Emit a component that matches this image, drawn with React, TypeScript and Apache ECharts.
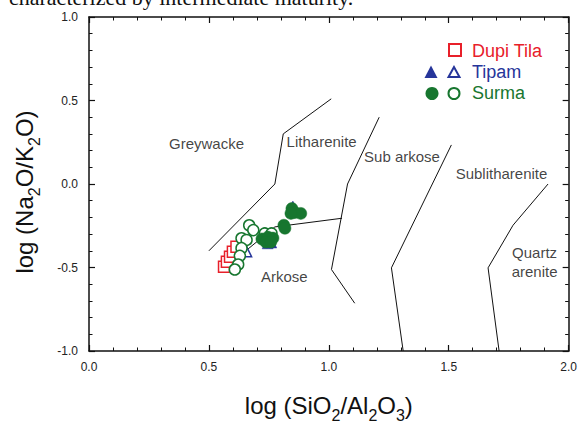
import React, { useEffect, useRef } from 'react';
import * as echarts from 'echarts';

const X_TICKS = ['0.0', '0.5', '1.0', '1.5', '2.0'];
const Y_TICKS = ['-1.0', '-0.5', '0.0', '0.5', '1.0'];

const dupiTila = [[0.563, -0.495], [0.575, -0.465], [0.588, -0.435], [0.6, -0.405], [0.615, -0.375]];
const tipamFilled = [[0.745, -0.355], [0.76, -0.35], [0.85, -0.135]];
const tipamOpen = [[0.657, -0.405]];
const surmaOpen = [
  [0.668, -0.247], [0.685, -0.276], [0.636, -0.325], [0.657, -0.335], [0.636, -0.384],
  [0.629, -0.43], [0.622, -0.482], [0.608, -0.512], [0.733, -0.296], [0.761, -0.296]
];
const surmaFilled = [
  [0.846, -0.147], [0.858, -0.171], [0.883, -0.176], [0.842, -0.176], [0.8125, -0.247],
  [0.817, -0.265], [0.721, -0.329], [0.746, -0.318], [0.767, -0.324], [0.7375, -0.347], [0.758, -0.347]
];

const lineGreywacke = [[0.5, -0.4], [0.775, 0.0], [0.81, 0.3], [1.01, 0.51]];
const lineArkose = [[0.62, -0.44], [0.775, -0.257], [1.055, -0.205]];
const lineSubArkose = [[1.21, 0.4], [1.078, 0.0], [1.011, -0.512], [1.108, -0.714]];
const lineSublith = [[1.511, 0.234], [1.261, -0.502], [1.31, -1.0]];
const lineQuartz = [[1.914, 0.0], [1.768, -0.247], [1.664, -0.502], [1.71, -1.0]];

const fieldNames = ['Greywacke', 'Litharenite', 'Sub arkose', 'Sublitharenite', 'Quartz\narenite', 'Arkose'];
const fieldPos = [[0.49, 0.243], [0.97, 0.257], [1.305, 0.165], [1.72, 0.063], [1.858, -0.465], [0.814, -0.551]];

const RED = '#e8202a';
const BLUE = '#26359a';
const GREEN = '#17762f';
const FONT = '"Liberation Sans", Arial, sans-serif';

export default function App() {
  const ref = useRef<HTMLDivElement>(null);
  useEffect(() => {
    if (!ref.current) return;
    const chart = echarts.init(ref.current, undefined, { renderer: 'svg' });
    const axisCommon = {
      type: 'value',
      interval: 0.5,
      axisLine: { show: true, onZero: false, lineStyle: { color: '#111', width: 1.5 } },
      axisTick: { show: true, inside: true, length: 6, lineStyle: { color: '#111', width: 1.2 } },
      minorTick: { show: true, splitNumber: 5, length: 3.5, lineStyle: { color: '#111', width: 1 } },
      splitLine: { show: false },
      minorSplitLine: { show: false }
    };
    const lineSeries = (d: number[][]) => ({
      type: 'line', data: d, symbol: 'none', silent: true, z: 1,
      lineStyle: { color: '#111', width: 1 }
    });
    const scatter = (d: number[][], symbol: string, size: number, filled: boolean, color: string, z: number) => ({
      type: 'scatter', data: d, symbol, symbolSize: size, z,
      itemStyle: { color: filled ? color : '#fff', borderColor: color, borderWidth: filled ? 0.5 : 1.5, opacity: 1 }
    });
    const rich = { s: { fontSize: 16, fontFamily: FONT, color: '#111', verticalAlign: 'bottom', padding: [0, 0, -6, 0] } };
    chart.setOption({
      animation: false,
      backgroundColor: '#fff',
      grid: { left: 89, right: 7, top: 17, bottom: 64 },
      xAxis: [
        {
          ...axisCommon, min: 0, max: 2, position: 'bottom',
          axisLabel: {
            margin: 10, fontSize: 12, color: '#222', fontFamily: FONT,
            formatter: (v: number) => X_TICKS[Math.round(v / 0.5)] ?? ''
          },
          name: 'log (SiO{s|2}/Al{s|2}O{s|3})',
          nameLocation: 'middle', nameGap: 42,
          nameTextStyle: { fontSize: 24, color: '#111', fontFamily: FONT, rich }
        },
        { ...axisCommon, min: 0, max: 2, position: 'top', axisLabel: { show: false } }
      ],
      yAxis: [
        {
          ...axisCommon, min: -1, max: 1, position: 'left',
          axisLabel: {
            margin: 11, fontSize: 12, color: '#222', fontFamily: FONT,
            formatter: (v: number) => Y_TICKS[Math.round((v + 1) / 0.5)] ?? ''
          },
          name: 'log (Na{s|2}O/K{s|2}O)',
          nameLocation: 'middle', nameGap: 53, nameRotate: 90,
          nameTextStyle: { fontSize: 24, color: '#111', fontFamily: FONT, rich, padding: [0, 16, 0, 0] }
        },
        { ...axisCommon, min: -1, max: 1, position: 'right', axisLabel: { show: false } }
      ],
      series: [
        lineSeries(lineGreywacke),
        lineSeries(lineArkose),
        lineSeries(lineSubArkose),
        lineSeries(lineSublith),
        lineSeries(lineQuartz),
        {
          type: 'scatter', silent: true, z: 2, symbolSize: 1,
          itemStyle: { color: 'rgba(0,0,0,0)' },
          data: fieldNames.map((n, i) => ({ name: n, value: fieldPos[i] })),
          label: {
            show: true, position: 'inside', formatter: (p: any) => p.name,
            fontSize: 15, color: '#111', fontFamily: FONT, lineHeight: 19, align: 'center'
          }
        },
        scatter(dupiTila, 'rect', 11, false, RED, 3),
        scatter(tipamOpen, 'triangle', 10, false, BLUE, 4),
        scatter(tipamFilled, 'triangle', 11, true, BLUE, 4),
        scatter(surmaOpen, 'circle', 11, false, GREEN, 5),
        scatter(surmaFilled, 'circle', 12, true, GREEN, 5)
      ],
      graphic: [
        {
          type: 'text', x: 9, y: 8,
          style: { text: 'characterized by intermediate maturity.', font: '22px "Liberation Serif", serif', fill: '#111', verticalAlign: 'bottom' }
        },
        { type: 'rect', shape: { x: 449, y: 44, width: 12, height: 12 }, style: { fill: '#fff', stroke: RED, lineWidth: 2 } },
        { type: 'text', x: 472, y: 51, style: { text: 'Dupi Tila', font: '18px ' + FONT, fill: RED, verticalAlign: 'middle' } },
        { type: 'polygon', shape: { points: [[431, 65.5], [424.5, 78], [437.5, 78]] }, style: { fill: BLUE } },
        { type: 'polygon', shape: { points: [[454, 67], [448.5, 77], [459.5, 77]] }, style: { fill: '#fff', stroke: BLUE, lineWidth: 2 } },
        { type: 'text', x: 472, y: 72, style: { text: 'Tipam', font: '18px ' + FONT, fill: BLUE, verticalAlign: 'middle' } },
        { type: 'circle', shape: { cx: 432, cy: 93.5, r: 6.5 }, style: { fill: GREEN } },
        { type: 'circle', shape: { cx: 454, cy: 93.5, r: 5.5 }, style: { fill: '#fff', stroke: GREEN, lineWidth: 2 } },
        { type: 'text', x: 472, y: 93, style: { text: 'Surma', font: '18px ' + FONT, fill: GREEN, verticalAlign: 'middle' } }
      ]
    });
    return () => chart.dispose();
  }, []);
  return <div ref={ref} style={{ position: 'fixed', left: 0, top: 0, width: 580, height: 428 }} />;
}
